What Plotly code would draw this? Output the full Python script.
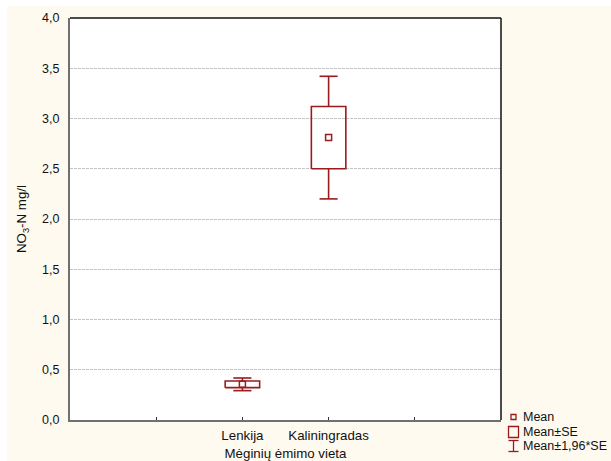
import plotly.graph_objects as go

categories = ["Lenkija", "Kaliningradas"]
cat_pos = [2, 3]
means = [0.355, 2.81]
se = [0.033, 0.31]
ci = [0.063, 0.61]  # 1.96*SE

RED = "#9A1B1E"
FONT = "Liberation Sans, Arial, sans-serif"
BOX_HALF = 0.2
CAP_HALF = 0.105

fig = go.Figure()

for c, m, s, e in zip(cat_pos, means, se, ci):
    # whiskers (Mean ± 1.96*SE)
    fig.add_trace(go.Scatter(
        x=[c, c, None, c - CAP_HALF, c + CAP_HALF, None, c, c, None, c - CAP_HALF, c + CAP_HALF],
        y=[m + s, m + e, None, m + e, m + e, None, m - s, m - e, None, m - e, m - e],
        mode="lines", line=dict(color=RED, width=1.6), hoverinfo="skip", showlegend=False))
    # SE box
    fig.add_trace(go.Scatter(
        x=[c - BOX_HALF, c + BOX_HALF, c + BOX_HALF, c - BOX_HALF, c - BOX_HALF],
        y=[m - s, m - s, m + s, m + s, m - s],
        mode="lines", line=dict(color=RED, width=1.6), hoverinfo="skip", showlegend=False))

# means
fig.add_trace(go.Scatter(
    x=cat_pos, y=means, mode="markers",
    marker=dict(symbol="square-open", size=6, color=RED, line=dict(width=1.5, color=RED)),
    showlegend=False))

shapes = [
    # white margin strips around cream page
    dict(type="rect", xref="paper", yref="paper", x0=-0.17, x1=1.3, y0=1.03, y1=1.1,
         fillcolor="white", line=dict(width=0), layer="below"),
    dict(type="rect", xref="paper", yref="paper", x0=-0.17, x1=-0.146, y0=-0.2, y1=1.1,
         fillcolor="white", line=dict(width=0), layer="below"),
    # top and right frame
    dict(type="line", xref="paper", yref="paper", x0=0, x1=1, y0=1, y1=1,
         line=dict(color="#111111", width=1.5)),
    dict(type="line", xref="paper", yref="paper", x0=1, x1=1, y0=0, y1=1,
         line=dict(color="#111111", width=1.5)),
]

# legend (manual)
px = 1 / 431
py = 1 / 402
leg_x = 1.0 + 12.5 * px  # paper coords of symbol center
leg_rows = [(420 - 417) / 402, (420 - 432) / 402, (420 - 446) / 402]
# Mean symbol
shapes.append(dict(type="rect", xref="paper", yref="paper",
                   x0=leg_x - 2.5 * px, x1=leg_x + 2.5 * px,
                   y0=leg_rows[0] - 2.5 * py, y1=leg_rows[0] + 2.5 * py,
                   line=dict(color=RED, width=1.3)))
# Mean±SE symbol
shapes.append(dict(type="rect", xref="paper", yref="paper",
                   x0=leg_x - 5 * px, x1=leg_x + 5 * px,
                   y0=leg_rows[1] - 5.5 * py, y1=leg_rows[1] + 5.5 * py,
                   line=dict(color=RED, width=1.3)))
# Mean±1.96*SE symbol (I-beam)
for yy in (leg_rows[2] + 5.5 * py, leg_rows[2] - 5.5 * py):
    shapes.append(dict(type="line", xref="paper", yref="paper",
                       x0=leg_x - 5 * px, x1=leg_x + 5 * px, y0=yy, y1=yy,
                       line=dict(color=RED, width=1.3)))
shapes.append(dict(type="line", xref="paper", yref="paper",
                   x0=leg_x, x1=leg_x, y0=leg_rows[2] - 5.5 * py, y1=leg_rows[2] + 5.5 * py,
                   line=dict(color=RED, width=1.3)))

legend_labels = ["Mean", "Mean±SE", "Mean±1,96*SE"]
annotations = []
for lab, yy in zip(legend_labels, leg_rows):
    annotations.append(dict(text=lab, xref="paper", yref="paper", x=leg_x + 7 * px, y=yy,
                            xanchor="left", yanchor="middle", showarrow=False,
                            font=dict(family=FONT, size=12.5, color="#111111")))

fig.update_layout(
    width=611, height=461,
    margin=dict(l=70, r=110, t=18, b=41),
    paper_bgcolor="#FEFAF0",
    plot_bgcolor="white",
    separators=",.",
    font=dict(family=FONT, size=12.5, color="#111111"),
    shapes=shapes,
    annotations=annotations,
    showlegend=False,
    xaxis=dict(
        range=[0, 5], tickmode="array", tickvals=cat_pos,
        ticktext=categories,
        ticks="inside", ticklen=3, tickcolor="#333333", tickwidth=1,
        minor=dict(ticks="inside", tickmode="array", tickvals=[1, 4], ticklen=3,
                   tickcolor="#333333", tickwidth=1, showgrid=False),
        tickfont=dict(size=13.3), ticklabelstandoff=2,
        showgrid=False, zeroline=False, automargin=False,
        showline=True, linecolor="#707070", linewidth=2,
        title=dict(text="Mėginių ėmimo vieta", standoff=7, font=dict(size=13.3)),
        fixedrange=True,
    ),
    yaxis=dict(
        range=[0, 4], tickmode="array", tickvals=[0, 0.5, 1, 1.5, 2, 2.5, 3, 3.5, 4],
        tickformat=".1f", ticks="", ticklabelstandoff=6,
        tickfont=dict(size=12.5), automargin=False,
        showgrid=True, gridcolor="#C4C4C4", griddash="3px,1px", gridwidth=1,
        zeroline=False,
        showline=True, linecolor="#707070", linewidth=2,
        title=dict(text="NO<sub>3</sub>-N mg/l", standoff=12, font=dict(size=13.3)),
        fixedrange=True,
    ),
)

fig.write_html("out.html")
